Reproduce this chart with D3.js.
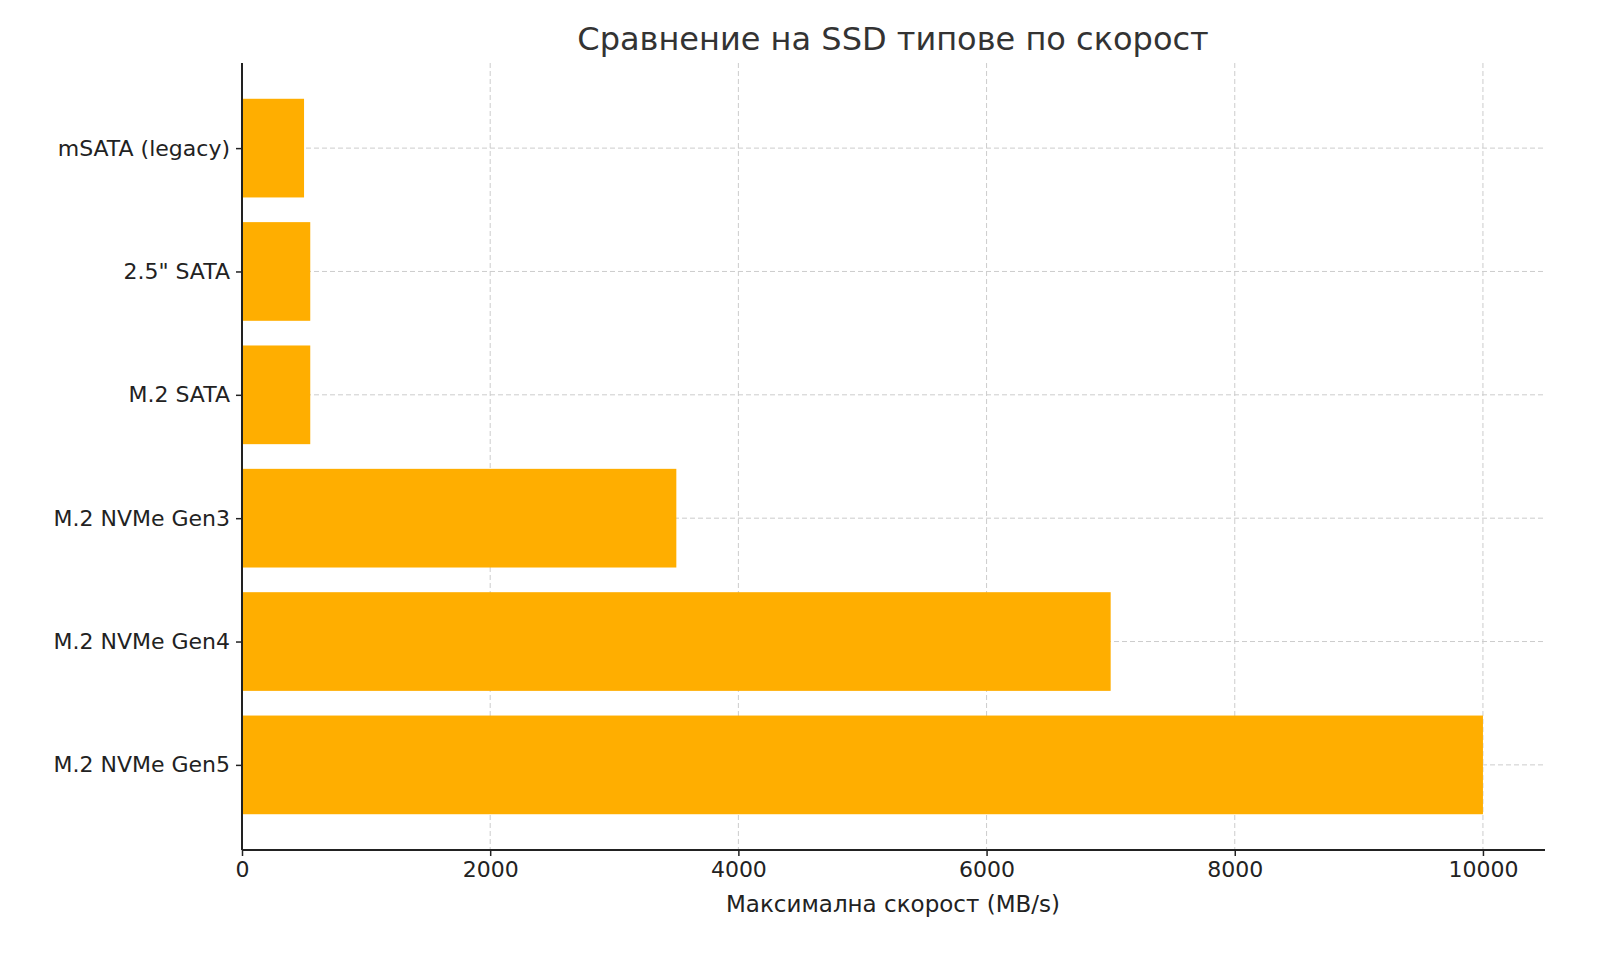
<!DOCTYPE html>
<html><head><meta charset="utf-8">
<script src="https://cdn.jsdelivr.net/npm/d3@7"></script>
<style>body{margin:0;background:#fff}text{font-family:"DejaVu Sans",sans-serif}</style>
</head><body><svg id="c" width="1600" height="960"></svg>
<script>
var categories = ["mSATA (legacy)", "2.5\" SATA", "M.2 SATA", "M.2 NVMe Gen3", "M.2 NVMe Gen4", "M.2 NVMe Gen5"];
var speeds = [500, 550, 550, 3500, 7000, 10000];
var xTicks = [0, 2000, 4000, 6000, 8000, 10000];

(function() {
var svg = d3.select("#c");
var mLeft = 242, mRight = 1545, mTop = 63, mBottom = 850;
var x = d3.scaleLinear().domain([0, 10500]).range([mLeft, mRight]);
// matplotlib-style categorical axis: index 0 at top
var y = d3.scaleLinear().domain([-0.69, 5.69]).range([mTop, mBottom]);
var bh = y(0.4) - y(-0.4);

// grid
svg.append("g").selectAll("line").data(xTicks).join("line")
  .attr("x1", function(d) { return x(d); }).attr("x2", function(d) { return x(d); })
  .attr("y1", mTop).attr("y2", mBottom)
  .attr("stroke", "#ccc").attr("stroke-dasharray", "5,3");
svg.append("g").selectAll("line").data(categories).join("line")
  .attr("x1", mLeft).attr("x2", mRight)
  .attr("y1", function(d, i) { return y(i); }).attr("y2", function(d, i) { return y(i); })
  .attr("stroke", "#ccc").attr("stroke-dasharray", "5,3");

// bars
svg.append("g").selectAll("rect").data(speeds).join("rect")
  .attr("x", x(0)).attr("y", function(d, i) { return y(i) - bh / 2; })
  .attr("width", function(d) { return x(d) - x(0); }).attr("height", bh)
  .attr("fill", "#FFAE00");

// axes
var xa = svg.append("g").attr("transform", "translate(0," + mBottom + ")")
  .call(d3.axisBottom(x).tickValues(xTicks).tickSize(6).tickPadding(5).tickFormat(d3.format("d")));
var ya = svg.append("g").attr("transform", "translate(" + mLeft + ",0)")
  .call(d3.axisLeft(y).tickValues(d3.range(categories.length)).tickSize(6).tickPadding(6)
    .tickFormat(function(i) { return categories[i]; }));
[xa, ya].forEach(function(a) {
  a.select(".domain").attr("stroke", "#222").attr("stroke-width", 2);
  a.selectAll(".tick line").attr("stroke", "#222").attr("stroke-width", 1.5);
  a.selectAll("text").attr("font-size", 22).attr("fill", "#222");
});
xa.select(".domain").attr("d", "M" + mLeft + ",0H" + mRight);
ya.select(".domain").attr("d", "M0," + mTop + "V" + mBottom);

svg.append("text").attr("x", 893).attr("y", 912).attr("text-anchor", "middle")
  .attr("font-size", 23).attr("fill", "#222").text("Максимална скорост (MB/s)");
svg.append("text").attr("x", 893).attr("y", 50).attr("text-anchor", "middle")
  .attr("font-size", 32).attr("fill", "#333").text("Сравнение на SSD типове по скорост");
})();
</script></body></html>
